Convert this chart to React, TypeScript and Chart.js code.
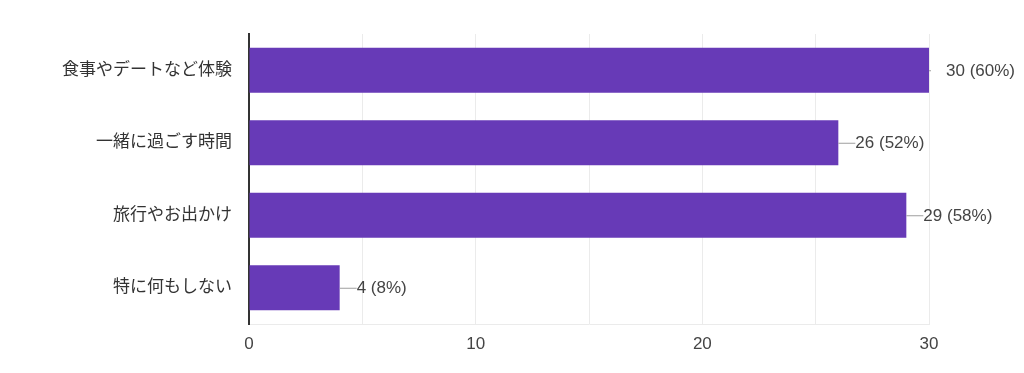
import React, { useEffect, useRef } from "react";
import { Chart, registerables } from "chart.js";

Chart.register(...registerables);

const categories = ["食事やデートなど体験", "一緒に過ごす時間", "旅行やお出かけ", "特に何もしない"];
const counts = [30, 26, 29, 4];
const percents = [60, 52, 58, 8];
const xTickLabels = [0, 10, 20, 30];

const FONT = "'Liberation Sans', Arial, 'Noto Sans CJK JP', sans-serif";

const valueLabelPlugin = {
  id: "valueLabels",
  afterDatasetsDraw(chart: any) {
    const ctx = chart.ctx;
    const meta = chart.getDatasetMeta(0);
    const xMax = chart.scales.x.max;
    ctx.save();
    ctx.font = `17px ${FONT}`;
    ctx.textBaseline = "middle";
    ctx.textAlign = "left";
    meta.data.forEach((bar: any, i: number) => {
      const x = bar.x;
      const y = bar.y;
      ctx.strokeStyle = "#9e9e9e";
      ctx.lineWidth = 1;
      ctx.beginPath();
      ctx.moveTo(x, y + 0.5);
      ctx.lineTo(counts[i] >= xMax ? x + 2 : x + 17, y + 0.5);
      ctx.stroke();
      ctx.fillStyle = "#444444";
      ctx.fillText(`${counts[i]} (${percents[i]}%)`, x + 17, y + 1);
    });
    ctx.restore();
  },
};

export default function App() {
  const ref = useRef<HTMLCanvasElement | null>(null);
  useEffect(() => {
    document.body.style.margin = "0";
    const chart = new Chart(ref.current as HTMLCanvasElement, {
      type: "bar",
      data: {
        labels: categories,
        datasets: [
          {
            data: counts,
            backgroundColor: "#673ab7",
            borderWidth: 0,
            barPercentage: 0.62,
            categoryPercentage: 1,
          },
        ],
      },
      plugins: [valueLabelPlugin],
      options: {
        indexAxis: "y",
        animation: false,
        responsive: false,
        layout: { padding: { left: 0, right: 95, top: 34, bottom: 0 } },
        plugins: { legend: { display: false }, tooltip: { enabled: false } },
        scales: {
          x: {
            min: 0,
            max: 30,
            ticks: {
              stepSize: 5,
              padding: 10,
              color: "#444444",
              font: { family: FONT, size: 17 },
              callback: (v: any) => (xTickLabels.includes(Number(v)) ? String(v) : ""),
            },
            grid: {
              drawTicks: false,
              color: (c: any) => (c.tick && c.tick.value === 0 ? "rgba(0,0,0,0)" : "#ebebeb"),
            },
            border: { display: true, color: "#ebebeb" },
            afterFit: (s: any) => {
              s.height = 49;
            },
          },
          y: {
            ticks: {
              padding: 17,
              color: "#333333",
              font: { family: FONT, size: 17 },
            },
            grid: { display: false, drawTicks: false },
            border: { display: true, color: "#333333", width: 2 },
            afterFit: (s: any) => {
              s.width = 249;
            },
          },
        },
      },
    });
    return () => chart.destroy();
  }, []);
  return (
    <div style={{ width: 1024, height: 373, background: "#fff" }}>
      <canvas ref={ref} width={1024} height={373} />
    </div>
  );
}
